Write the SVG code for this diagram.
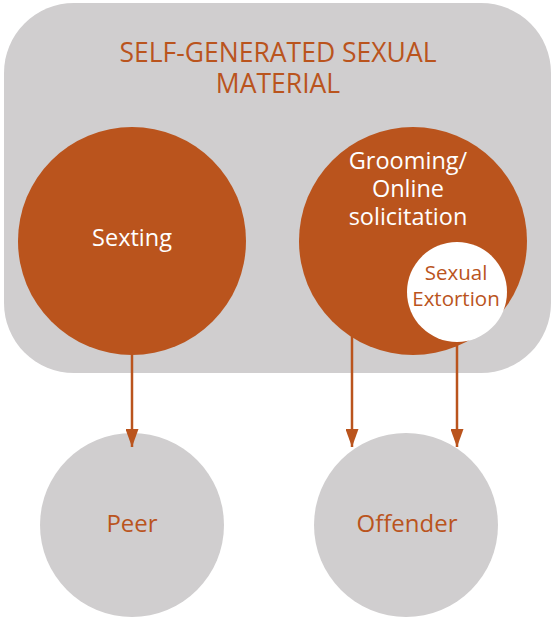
<svg xmlns="http://www.w3.org/2000/svg" width="552" height="619" viewBox="0 0 552 619">
  <style>
    .panel { fill: #D0CECF; }
    .big { fill: #BA541D; }
    .target { fill: #D0CECF; }
    .inner { fill: #FFFFFF; }
    .t { font-family: "Open Sans", "Noto Sans", "Liberation Sans", sans-serif; text-anchor: middle; }
    .light { fill: #FFFFFF; }
    .dark { fill: #BA541D; }
    .conn line { stroke: #BA541D; stroke-width: 2.5; }
  </style>
  <defs>
    <marker id="arrow" viewBox="0 0 18 13" refX="18" refY="6.5" markerWidth="18" markerHeight="13" markerUnits="userSpaceOnUse" orient="auto">
      <path d="M0,0 L18,6.5 L0,13 Z" fill="#BA541D"/>
    </marker>
  </defs>

  <!-- outer panel -->
  <g id="panel">
    <rect class="panel" x="4" y="3" width="547" height="370" rx="70" ry="70"/>
    <text class="t dark" font-size="26.5" x="278" y="62">SELF-GENERATED SEXUAL</text>
    <text class="t dark" font-size="26.5" x="278" y="93">MATERIAL</text>
  </g>

  <g id="sexting">
    <circle class="big" cx="132" cy="241" r="114"/>
    <text class="t light" font-size="23.5" x="132" y="246">Sexting</text>
  </g>

  <g id="grooming">
    <circle class="big" cx="413" cy="241" r="114"/>
    <text class="t light" font-size="23.5" x="408" y="169">Grooming/</text>
    <text class="t light" font-size="23.5" x="408" y="197">Online</text>
    <text class="t light" font-size="23.5" x="408" y="225">solicitation</text>
  </g>

  <g id="extortion">
    <circle class="inner" cx="457" cy="292" r="50"/>
    <text class="t dark" font-size="20.5" x="456" y="280">Sexual</text>
    <text class="t dark" font-size="20.5" x="456" y="306">Extortion</text>
  </g>

  <g id="peer">
    <circle class="target" cx="132" cy="525" r="92"/>
    <text class="t dark" font-size="24" x="132" y="532">Peer</text>
  </g>

  <g id="offender">
    <circle class="target" cx="406" cy="525" r="92"/>
    <text class="t dark" font-size="24" x="407" y="532">Offender</text>
  </g>

  <g id="connectors" class="conn">
    <line x1="132" y1="355" x2="132" y2="447" marker-end="url(#arrow)"/>
    <line x1="352" y1="335" x2="352" y2="447" marker-end="url(#arrow)"/>
    <line x1="457" y1="342" x2="457" y2="447" marker-end="url(#arrow)"/>
  </g>
</svg>
